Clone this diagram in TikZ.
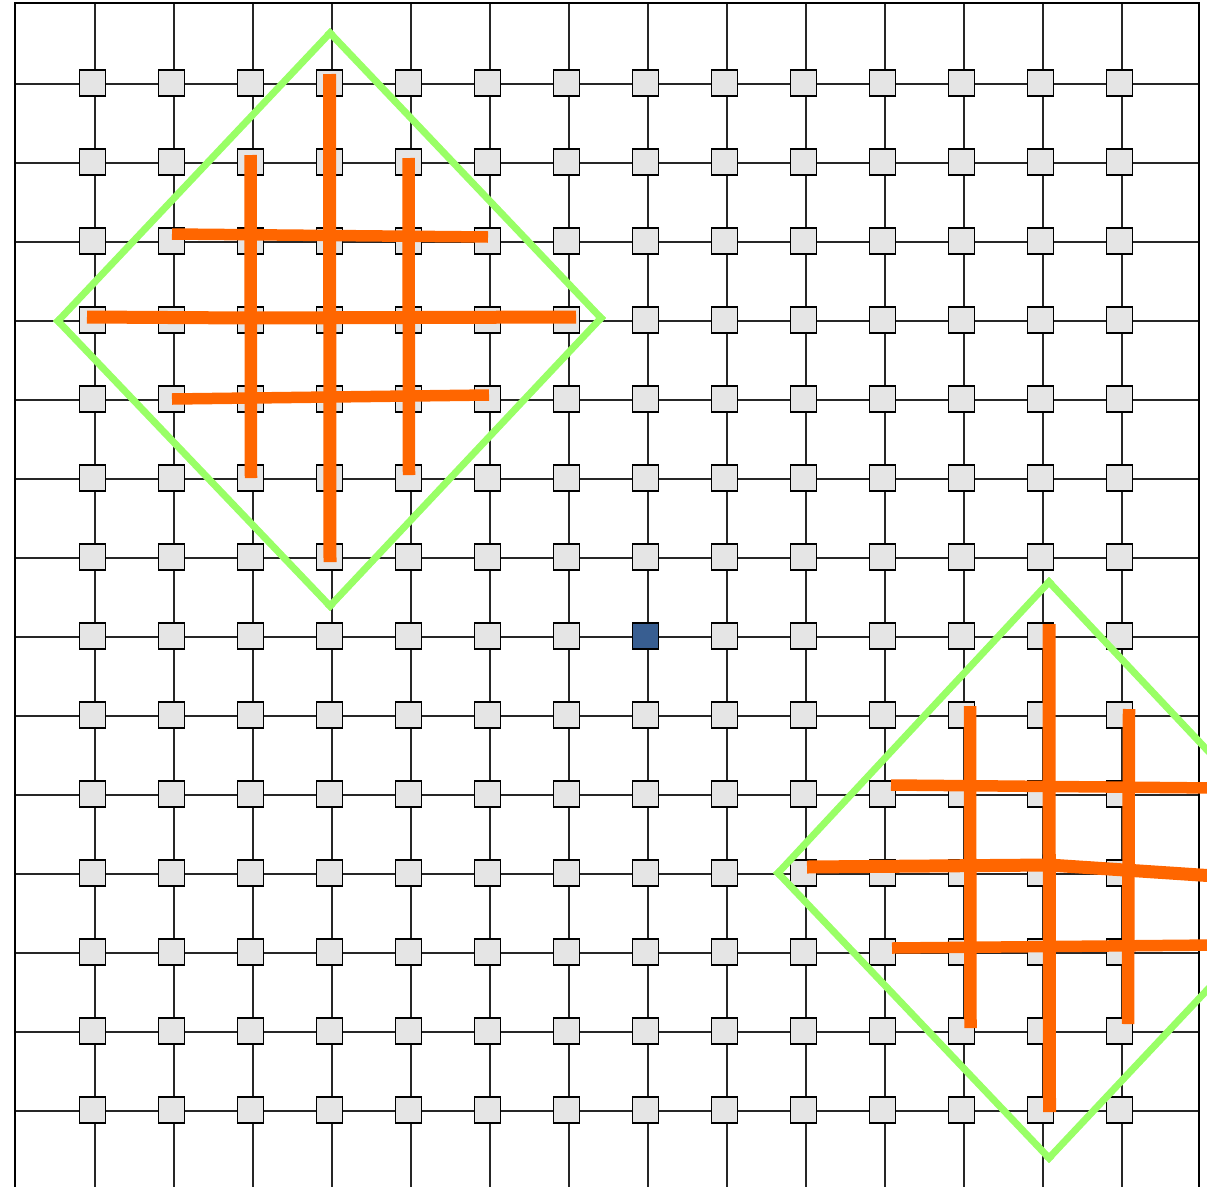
\documentclass[tikz,border=0pt]{standalone}
\definecolor{sqfill}{RGB}{229,229,229}
\definecolor{bluefill}{RGB}{56,94,145}
\definecolor{lgreen}{RGB}{153,255,102}
\definecolor{orng}{RGB}{255,102,0}
\begin{document}
\begin{tikzpicture}[x=1pt,y=-1pt,
  cell/.style={draw=black, line width=1.8pt, fill=sqfill, minimum size=26pt, inner sep=0pt, outer sep=0pt},
  bluecell/.style={cell, fill=bluefill},
  gridline/.style={draw=black!85, line width=1.1pt},
  frameline/.style={draw=black, line width=2pt},
  region/.style={draw=lgreen, line width=7pt, line cap=rect},
  bar/.style={draw=orng, line width=12.5pt, line cap=butt}]
\useasboundingbox (0,0) rectangle (1207,1186);
\clip (0,0) rectangle (1207,1186);
% grid lines
\foreach \i in {0,...,13}{
  \coordinate (vt\i) at ({95+79*\i},3);
  \coordinate (vb\i) at ({95+79*\i},1195);
  \draw[gridline] (vt\i) -- (vb\i);
  \coordinate (hl\i) at (15,{84+79*\i});
  \coordinate (hr\i) at (1199,{84+79*\i});
  \draw[gridline] (hl\i) -- (hr\i);
}
% frame
\coordinate (fbl) at (15,1195);
\coordinate (ftl) at (15,3);
\coordinate (ftr) at (1199,3);
\coordinate (fbr) at (1199,1195);
\draw[frameline] (fbl) -- (ftl) -- (ftr) -- (fbr);
% squares
\foreach \i in {0,...,13}{
  \foreach \j in {0,...,13}{
    \node[cell] (s-\i-\j) at ({92.5+79*\i},{83+79*\j}) {};
  }
}
\node[bluecell] (s-7-7b) at (645.5,636) {};
% green diamonds
\coordinate (d1t) at (330,33);
\coordinate (d1l) at (58,321);
\coordinate (d1r) at (601,318);
\coordinate (d1b) at (330,606);
\draw[region] (d1t) -- (d1r);
\draw[region] (d1r) -- (d1b);
\draw[region] (d1b) -- (d1l);
\draw[region] (d1l) -- (d1t);
\coordinate (d2t) at (1049,582);
\coordinate (d2l) at (778,873);
\coordinate (d2r) at (1320,870);
\coordinate (d2b) at (1049,1158);
\draw[region] (d2t) -- (d2r);
\draw[region] (d2r) -- (d2b);
\draw[region] (d2b) -- (d2l);
\draw[region] (d2l) -- (d2t);
% orange bars, region 1
\coordinate (a1) at (250.5,155); \coordinate (a2) at (251,478);
\coordinate (b1) at (329.5,74);  \coordinate (b2) at (330,562);
\coordinate (c1) at (408.5,158); \coordinate (c2) at (409,475);
\coordinate (e1) at (172,234);   \coordinate (e2) at (488,237);
\coordinate (f1) at (87,317);    \coordinate (fm) at (250,318); \coordinate (f2) at (576,317);
\coordinate (g1) at (172,399);   \coordinate (g2) at (489,395);
\draw[bar] (a1) -- (a2);
\draw[bar, line width=13pt] (b1) -- (b2);
\draw[bar] (c1) -- (c2);
\draw[bar, line width=11.5pt] (e1) -- (e2);
\draw[bar, line width=13pt] (f1) -- (fm) -- (f2);
\draw[bar, line width=11.5pt] (g1) -- (g2);
% orange bars, region 2
\coordinate (p1) at (970,706);   \coordinate (p2) at (970.5,1028);
\coordinate (q1) at (1049,624);  \coordinate (q2) at (1049.5,1112);
\coordinate (r1) at (1129,709);  \coordinate (r2) at (1128,1024);
\coordinate (t1) at (891,785);   \coordinate (t2) at (1215,788);
\coordinate (u1) at (807,867);   \coordinate (um) at (1049,865); \coordinate (u2) at (1215,876);
\coordinate (w1) at (892,948);   \coordinate (w2) at (1215,945);
\draw[bar] (p1) -- (p2);
\draw[bar, line width=13pt] (q1) -- (q2);
\draw[bar] (r1) -- (r2);
\draw[bar, line width=11.5pt] (t1) -- (t2);
\draw[bar, line width=13pt] (u1) -- (um) -- (u2);
\draw[bar, line width=11.5pt] (w1) -- (w2);
\end{tikzpicture}
\end{document}
